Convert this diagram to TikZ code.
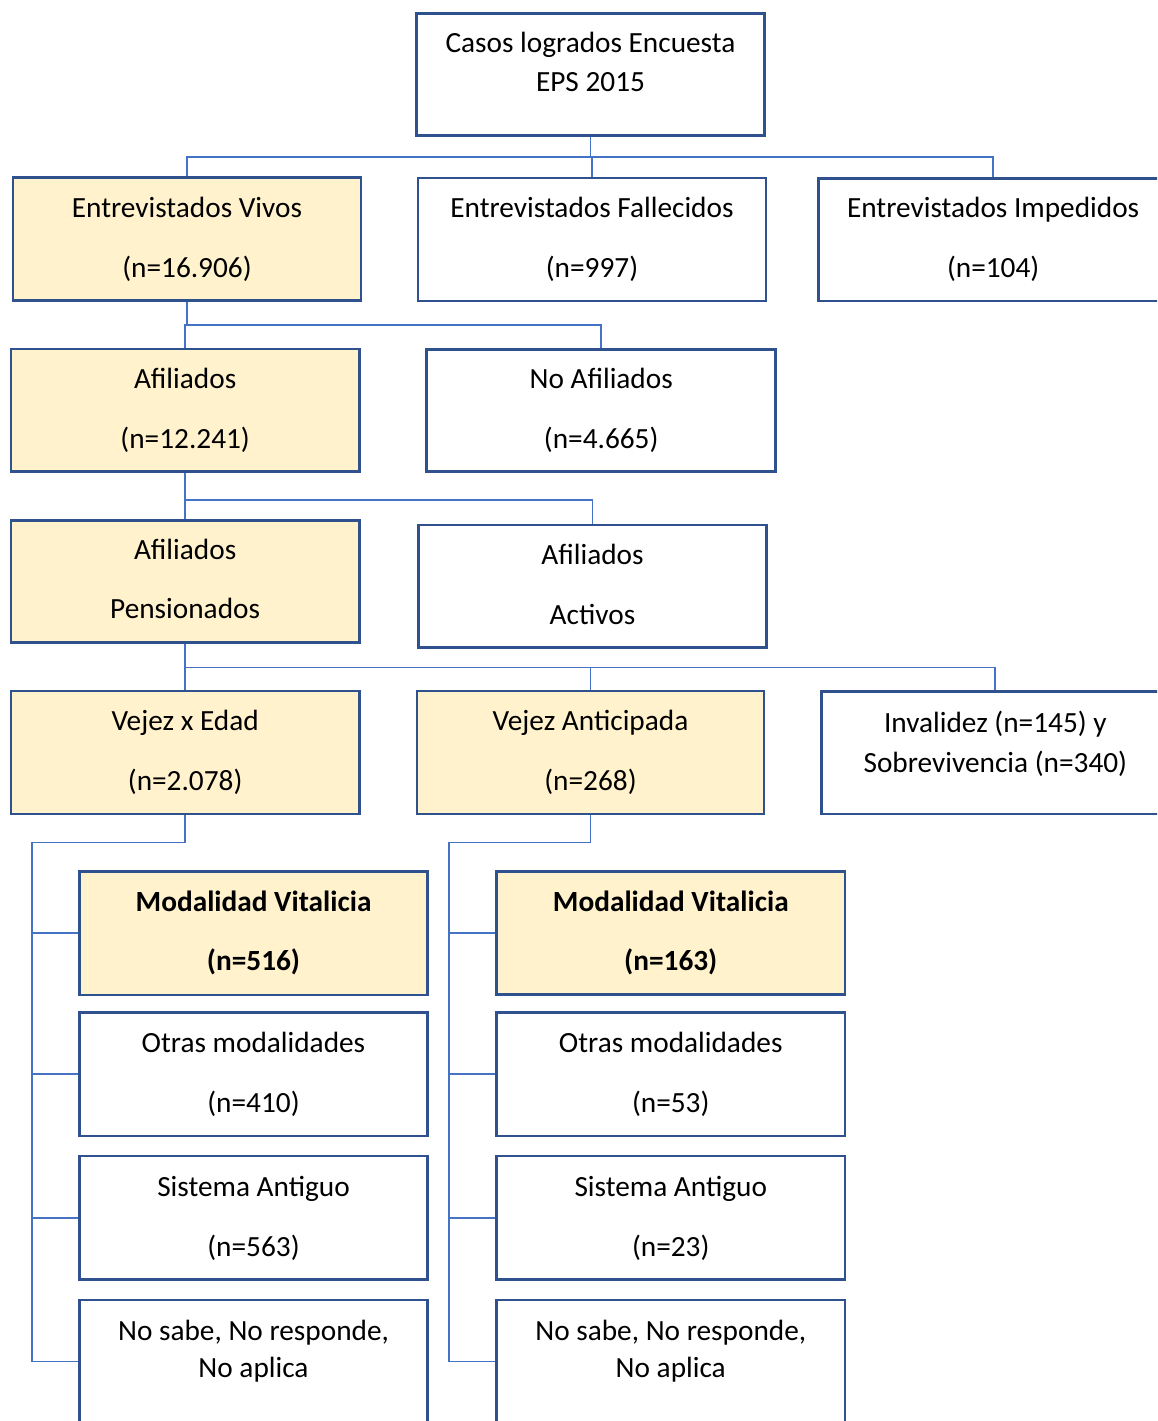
\documentclass[tikz,border=0pt]{standalone}
\usepackage{fontspec}
\setmainfont{Carlito}
\definecolor{boxblue}{RGB}{47,82,143}
\definecolor{connblue}{RGB}{68,114,196}
\definecolor{boxfill}{RGB}{255,242,204}
\tikzset{
  box/.style={draw=boxblue, line width=2.6pt, rectangle, inner sep=0pt, fill=white},
  hl/.style={fill=boxfill},
  txt/.style={anchor=base, inner sep=0pt, font=\fontsize{29.3}{34}\selectfont},
  btxt/.style={txt, font=\fontsize{29.3}{34}\selectfont\bfseries},
  conn/.style={draw=connblue, line width=1.9pt}
}
% name, extra style, x1, y1, x2, y2
\newcommand{\bx}[6]{%
  \node[box,#2,minimum width={#5-#3}, minimum height={#6-#4}] (#1) at ({(#3+#5)/2},{(#4+#6)/2}) {};}
% name, text style, line1, line2, gap to first baseline, gap between baselines
\newcommand{\tl}[6]{%
  \node[#2] (#1-a) at ([yshift=-#5pt-1.5pt]#1.north) {#3};
  \node[#2] (#1-b) at ([yshift=-#5pt-#6pt-1.5pt]#1.north) {#4};}
\begin{document}
\begin{tikzpicture}[x=1pt,y=-1pt]
\useasboundingbox (0,0) rectangle (1157,1421);
\clip (0,0) rectangle (1157,1421);
\fill[white] (0,0) rectangle (1157,1421);

% bus coordinates
\coordinate (bus1) at (0,157);
\coordinate (bus2) at (0,325);
\coordinate (bus3) at (0,500);
\coordinate (bus4) at (0,667.5);
\coordinate (spineA) at (32,842.5);
\coordinate (spineB) at (449,842.5);

% boxes
\bx{casos}{}{416.7}{13.3}{764.3}{135.7}
\bx{vivos}{hl}{13}{177.5}{361}{300.7}
\bx{fall}{}{418}{178}{766}{301}
\bx{imped}{}{818.3}{178.3}{1168}{301}
\bx{afil}{hl}{11}{349}{359.3}{471.7}
\bx{noafil}{}{426.7}{349.3}{775.7}{471.7}
\bx{pens}{hl}{11}{520.7}{359.3}{642.7}
\bx{activ}{}{418.3}{525}{766.7}{647.7}
\bx{edad}{hl}{11}{691}{359.3}{814}
\bx{antic}{hl}{417}{691}{764}{814}
\bx{inval}{}{821.7}{691.7}{1169}{814}
\bx{modA}{hl}{79.3}{871.7}{427.7}{995}
\bx{otrA}{}{79.3}{1012.7}{427.7}{1136}
\bx{sisA}{}{79.3}{1156}{427.7}{1279.3}
\bx{nsA}{}{79.3}{1300}{427.7}{1423}
\bx{modB}{hl}{496.5}{871.3}{845}{994.5}
\bx{otrB}{}{496.5}{1012.7}{845}{1136}
\bx{sisB}{}{496.5}{1156}{845}{1279.3}
\bx{nsB}{}{496.5}{1300}{845}{1423}

% texts
\tl{casos}{txt}{Casos logrados Encuesta}{EPS 2015}{38.7}{39}
\tl{vivos}{txt}{Entrevistados Vivos}{(n=16.906)}{39.3}{60}
\tl{fall}{txt}{Entrevistados Fallecidos}{(n=997)}{39.3}{60}
\tl{imped}{txt}{Entrevistados Impedidos}{(n=104)}{39.3}{60}
\tl{afil}{txt}{Afiliados}{(n=12.241)}{39.3}{60}
\tl{noafil}{txt}{No Afiliados}{(n=4.665)}{39}{60}
\tl{pens}{txt}{Afiliados}{Pensionados}{38.8}{59}
\tl{activ}{txt}{Afiliados}{Activos}{39}{60}
\tl{edad}{txt}{Vejez x Edad}{(n=2.078)}{39}{60}
\tl{antic}{txt}{Vejez Anticipada}{(n=268)}{39}{60}
\tl{inval}{txt}{Invalidez (n=145) y}{Sobrevivencia (n=340)}{41}{39.3}
\tl{modA}{btxt}{Modalidad Vitalicia}{(n=516)}{40}{59}
\tl{modB}{btxt}{Modalidad Vitalicia}{(n=163)}{40}{59}
\tl{otrA}{txt}{Otras modalidades}{(n=410)}{39.6}{60}
\tl{otrB}{txt}{Otras modalidades}{(n=53)}{39.6}{60}
\tl{sisA}{txt}{Sistema Antiguo}{(n=563)}{40}{60}
\tl{sisB}{txt}{Sistema Antiguo}{(n=23)}{40}{60}
\tl{nsA}{txt}{No sabe, No responde,}{No aplica}{40}{37.5}
\tl{nsB}{txt}{No sabe, No responde,}{No aplica}{40}{37.5}

% connectors level 1
\draw[conn] (casos.south) -- (casos.south |- bus1);
\draw[conn] (vivos.north) |- (imped.north |- bus1) -- (imped.north);
\draw[conn] (fall.north) -- (fall.north |- bus1);
% level 2
\draw[conn] (vivos.south) -- (vivos.south |- bus2);
\draw[conn] (afil.north) |- (noafil.north |- bus2) -- (noafil.north);
% level 3
\draw[conn] (afil.south) -- (afil.south |- bus3);
\draw[conn] (pens.north) |- (activ.north |- bus3) -- (activ.north);
% level 4
\draw[conn] (pens.south) -- (pens.south |- bus4);
\draw[conn] (edad.north) |- (inval.north |- bus4) -- (inval.north);
\draw[conn] (antic.north) -- (antic.north |- bus4);
% left column
\draw[conn] (edad.south) |- (spineA) |- (nsA.west);
\draw[conn] (modA.west) -- (modA.west -| spineA);
\draw[conn] (otrA.west) -- (otrA.west -| spineA);
\draw[conn] (sisA.west) -- (sisA.west -| spineA);
% right column
\draw[conn] (antic.south) |- (spineB) |- (nsB.west);
\draw[conn] (modB.west) -- (modB.west -| spineB);
\draw[conn] (otrB.west) -- (otrB.west -| spineB);
\draw[conn] (sisB.west) -- (sisB.west -| spineB);
\end{tikzpicture}
\end{document}
